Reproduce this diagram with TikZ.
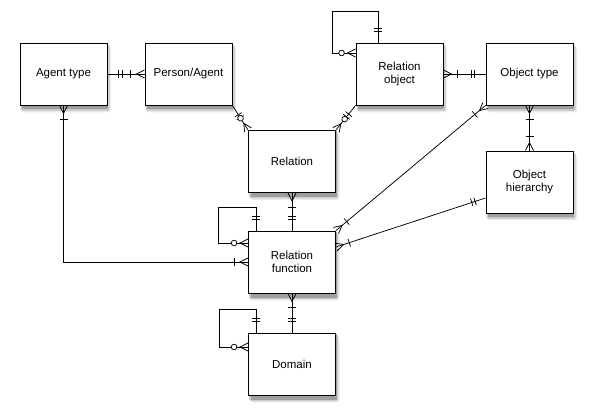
\documentclass[tikz,border=0pt]{standalone}
\usepackage{fontspec}
\setmainfont{Liberation Sans}
\usetikzlibrary{decorations.markings}
\definecolor{shA}{gray}{0.92}
\definecolor{shB}{gray}{0.80}
\definecolor{shC}{gray}{0.62}
\tikzset{
  entity/.style={draw, line width=0.9pt, fill=white, minimum width=87pt, minimum height=62pt,
    align=center, font=\fontsize{11.5}{13.5}\selectfont},
  link/.style={line width=0.75pt},
  mk/.style={postaction={decorate,decoration={markings,#1}}},
  sOne/.style={mk={mark=at position 11pt with {\draw[line width=0.75pt] (0,-4pt)--(0,4pt);},
                   mark=at position 14.5pt with {\draw[line width=0.75pt] (0,-4pt)--(0,4pt);}}},
  eOne/.style={mk={mark=at position -11pt with {\draw[line width=0.75pt] (0,-4pt)--(0,4pt);},
                   mark=at position -14.5pt with {\draw[line width=0.75pt] (0,-4pt)--(0,4pt);}}},
  sMany/.style={mk={mark=at position 8pt with {\draw[line width=0.75pt] (-8pt,4pt)--(0,0)--(-8pt,-4pt);},
                    mark=at position 14pt with {\draw[line width=0.75pt] (0,-4pt)--(0,4pt);}}},
  eMany/.style={mk={mark=at position -8pt with {\draw[line width=0.75pt] (8pt,4pt)--(0,0)--(8pt,-4pt);},
                    mark=at position -14pt with {\draw[line width=0.75pt] (0,-4pt)--(0,4pt);}}},
  sZero/.style={mk={mark=at position 8pt with {\draw[line width=0.75pt] (-8pt,4pt)--(0,0)--(-8pt,-4pt);},
                    mark=at position 14pt with {\draw[line width=0.75pt,fill=white] (0,0) circle (2.8pt);}}},
  eZero/.style={mk={mark=at position -8pt with {\draw[line width=0.75pt] (8pt,4pt)--(0,0)--(8pt,-4pt);},
                    mark=at position -14pt with {\draw[line width=0.75pt,fill=white] (0,0) circle (2.8pt);}}},
  shade1/.style={fill=shA, rounded corners=3pt},
  shade2/.style={fill=shB, rounded corners=1.5pt},
  shade3/.style={fill=shC},
}
\begin{document}
\begin{tikzpicture}[x=1pt,y=-1pt]
\useasboundingbox (0,0) rectangle (593,419);
% shadows (drawn first, behind the boxes)
\foreach \cx/\cy in {63.5/74,188.5/74,399.5/74,529.5/74,292/161.5,529.5/182,292/262,292/364}{
  \fill[shade1] (\cx-42,\cy-28) rectangle (\cx+47.5,\cy+38.5);
  \fill[shade2] (\cx-43.5+0.5,\cy-29) rectangle (\cx+46,\cy+37);
  \fill[shade3] (\cx-43.5+2,\cy-30) rectangle (\cx+44.5,\cy+35.5);
}
% entities
\node[entity] (at)  at (63.5,74)  {Agent type};
\node[entity] (pa)  at (188.5,74) {Person/Agent};
\node[entity] (ro)  at (399.5,74) {Relation\\object};
\node[entity] (ot)  at (529.5,74) {Object type};
\node[entity] (rel) at (292,161.5) {Relation};
\node[entity] (oh)  at (529.5,182) {Object\\hierarchy};
\node[entity] (rf)  at (292,262) {Relation\\function};
\node[entity] (dom) at (292,364) {Domain};
% connectors
\draw[link,sOne,eMany] (at.east) -- (pa.west);
\draw[link,sOne,eZero] (pa.south east) -- (rel.north west);
\draw[link,sOne,eZero] (ro.south west) -- (rel.north east);
\draw[link,sOne,eZero] ([xshift=-21.5pt]ro.north) |- (332,11) |- ([yshift=21pt]ro.west);
\draw[link,sMany,eOne] (ro.east) -- (ot.west);
\draw[link,sMany,eMany] (ot.south) -- (oh.north);
\draw[link,sMany,eMany] (ot.south west) -- (rf.north east);
\draw[link,sOne,eMany] ([yshift=-16pt]oh.west) -- ([yshift=15pt]rf.east);
\draw[link,sMany,eOne] (rel.south) -- (rf.north);
\draw[link,sOne,eZero] ([xshift=-36pt]rf.north) |- (218,207) |- ([yshift=19pt]rf.west);
\draw[link,sMany,eMany] (at.south) |- (rf.west);
\draw[link,sMany,eOne] (rf.south) -- (dom.north);
\draw[link,sOne,eZero] ([xshift=-36pt]dom.north) |- (219,309) |- ([yshift=17pt]dom.west);
\end{tikzpicture}
\end{document}
